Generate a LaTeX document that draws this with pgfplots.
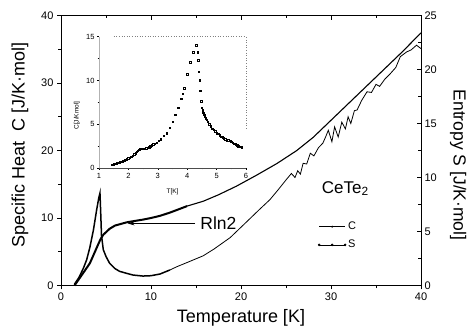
\documentclass[border=0pt]{standalone}
\usepackage{pgfplots}
\pgfplotsset{compat=1.18}
\usepackage{fontspec}
\setmainfont{Liberation Sans}
\usetikzlibrary{arrows.meta}
\begin{document}
\begin{tikzpicture}[x=1pt,y=1pt]
\path[use as bounding box] (0,0) rectangle (470,331);
% main axis: specific heat (left)
\begin{axis}[
  at={(61pt,45.5pt)}, anchor=south west,
  scale only axis, width=360pt, height=270pt,
  xmin=0, xmax=40, ymin=0, ymax=40,
  xtick={0,10,20,30,40}, ytick={0,10,20,30,40},
  minor xtick={5,15,25,35}, minor ytick={5,15,25,35},
  xtick pos=left, ytick pos=left, tick align=outside,
  major tick length=4pt, minor tick length=3pt,
  every tick/.style={black, line width=0.7pt},
  axis line style={line width=0.9pt},
  ticklabel style={font=\fontsize{11}{13}\selectfont},
  /pgf/number format/assume math mode=true,
  xlabel={Temperature [K]},
  ylabel={Specific Heat\ \ C [J/K·mol]},
  label style={font=\fontsize{18}{20}\selectfont},
  xlabel style={at={(axis description cs:0.5,-0.12)}, anchor=center},
  ylabel style={at={(axis description cs:-0.114,0.52)}, anchor=center},
  clip=false,
]
\addplot[black, line width=1.5pt] coordinates {
(1.5,0.2) (2.0,1.2) (2.5,2.6) (2.85,3.8) (3.2,5.6) (3.6,8.2) (3.96,11.2)
(4.2,13.0) (4.33,13.7) (4.42,10.5) (4.5,7.4) (4.7,5.3) (5.0,4.3) (5.4,3.3)
(6.0,2.5) (6.5,2.1) (7.3,1.8) (8.0,1.55) (9.1,1.4) (10.0,1.45) (11.0,1.7) (12.1,2.3)};
\addplot[black, line width=0.8pt] coordinates {
(12.1,2.3) (12.9,2.8) (14.0,3.4) (15.8,4.4) (17.0,5.4) (18.8,7.1) (20.6,9.4)
(22.0,11.2) (23.2,12.7) (24.2,14.3) (25.1,15.8) (25.6,16.6) (26.0,16.0) (26.3,17.0)
(26.6,16.5) (26.9,18.1) (27.3,18.0) (27.7,19.6) (28.1,19.2) (28.6,20.4) (29.1,21.1)
(29.4,22.0) (29.7,23.0) (30.1,21.3) (30.4,23.5) (30.8,22.0) (31.2,24.2) (31.6,23.2)
(31.9,25.0) (32.2,24.0) (32.6,25.9) (32.9,26.0) (33.4,27.4) (34.0,28.7) (34.5,28.6)
(35.0,29.8) (35.4,29.5) (36.0,30.6) (36.6,31.4) (37.2,32.3) (37.7,33.9) (38.4,34.6)
(38.9,34.9) (39.5,35.6) (40.0,35.1)};
\node[anchor=base west, font=\fontsize{17}{19}\selectfont] at (axis cs:28.6,13.7) {CeTe\textsubscript{2}};
\node[anchor=west, font=\fontsize{17.5}{19}\selectfont] at (axis cs:15.1,9.26) {Rln2};
\draw[-{Stealth[length=7pt,width=4pt]}, line width=0.7pt] (axis cs:14.9,9.2) -- (axis cs:7.4,9.2);
\end{axis}
% right axis: entropy
\begin{axis}[
  at={(61pt,45.5pt)}, anchor=south west,
  scale only axis, width=360pt, height=270pt,
  xmin=0, xmax=40, ymin=0, ymax=25,
  xtick={0,10,20,30,40}, minor xtick={5,15,25,35},
  ytick={0,5,10,15,20,25}, minor ytick={2.5,7.5,12.5,17.5,22.5},
  xticklabels={},
  xtick pos=right, ytick pos=right, yticklabel pos=right,
  tick align=inside,
  major tick length=4.5pt, minor tick length=3pt,
  every tick/.style={black, line width=0.7pt},
  axis line style={line width=0.9pt},
  ticklabel style={font=\fontsize{11}{13}\selectfont},
  /pgf/number format/assume math mode=true,
  ylabel={Entropy S [J/K·mol]},
  label style={font=\fontsize{17.5}{20}\selectfont},
  ylabel style={at={(axis description cs:1.103,0.446)}, anchor=center, rotate=180},
  legend style={at={(0.714,0.243)}, anchor=north west, draw=none, fill=none,
    font=\fontsize{11}{13}\selectfont, row sep=5pt, inner sep=0pt},
  legend cell align=left,
  legend image code/.code={\draw[#1] plot coordinates {(0pt,0pt) (13pt,0pt) (26pt,0pt)};},
  clip=false,
]
\addplot[black, line width=2pt, forget plot] coordinates {
(1.5,0) (2.0,0.6) (2.5,1.2) (3.2,2.05) (3.6,2.8) (4.1,3.75) (4.4,4.3) (4.7,4.7)
(5.4,5.25) (6.0,5.55) (7.3,5.85) (8.0,5.95) (9.1,6.1) (10.0,6.25) (11.0,6.45)
(12.1,6.75) (12.9,7.0) (14.0,7.35)};
\addplot[black, line width=1.1pt, forget plot] coordinates {
(14.0,7.35) (15.8,7.8) (17.5,8.4) (19.5,9.2) (21.7,10.2) (24.0,11.3) (26.2,12.5)
(28.0,13.7) (30.0,15.3) (32.0,16.9) (34.0,18.5) (36.0,20.1) (38.0,21.7) (40.0,23.4)};
\addlegendimage{black, line width=0.5pt, mark=*, mark size=0.7pt, mark repeat=2, mark phase=2}
\addlegendentry{C}
\addlegendimage{black, line width=0.7pt, mark=*, mark size=0.9pt}
\addlegendentry{S}
\end{axis}
% inset
\begin{axis}[
  at={(99pt,163pt)}, anchor=south west,
  scale only axis, width=147pt, height=131.3pt,
  xmin=1, xmax=6, ymin=0, ymax=15,
  xtick={1,2,3,4,5,6}, ytick={0,5,10,15},
  minor xtick={1.5,2.5,3.5,4.5,5.5}, minor ytick={2.5,7.5,12.5},
  xtick pos=left, ytick pos=left, tick align=outside,
  major tick length=2pt, minor tick length=1.3pt,
  every tick/.style={black, line width=0.5pt},
  axis line style={draw=none},
  ticklabel style={font=\fontsize{7.5}{8}\selectfont},
  yticklabel style={xshift=1pt},
  /pgf/number format/assume math mode=true,
  xlabel={T[K]}, ylabel={C[J/Kmol]},
  label style={font=\fontsize{6.5}{7}\selectfont},
  xlabel style={at={(axis description cs:0.5,-0.18)}, anchor=center},
  ylabel style={at={(axis description cs:-0.15,0.40)}, anchor=center},
  clip=false,
]
\draw[line width=0.7pt, gray!60!black] (rel axis cs:0,0) -- (rel axis cs:1,0);
\draw[line width=0.3pt, gray!60] (rel axis cs:0,0) -- (rel axis cs:0,1);
\draw[line width=0.6pt, dotted, gray] (rel axis cs:0.1,1) -- (rel axis cs:1,1) -- (rel axis cs:1,0.3);
\addplot[only marks, black, mark=square, mark size=0.75pt, mark options={line width=0.45pt}] coordinates {
(1.45,0.4) (1.5,0.45) (1.55,0.5) (1.6,0.55) (1.65,0.6) (1.7,0.65) (1.75,0.7) (1.8,0.78)
(1.85,0.85) (1.9,0.92) (1.95,1.0) (2.0,1.1) (2.05,1.2) (2.1,1.3) (2.15,1.4) (2.2,1.55)
(2.25,1.7) (2.29,1.85) (2.32,2.0) (2.35,2.1) (2.38,2.15) (2.42,2.2) (2.45,2.2) (2.5,2.2)
(2.55,2.2) (2.6,2.25) (2.65,2.3) (2.7,2.4) (2.75,2.5) (2.8,2.6) (2.85,2.7) (2.9,2.8)
(2.96,2.9) (3.03,3.1) (3.1,3.3) (3.2,3.7) (3.3,4.0) (3.4,4.6) (3.5,5.3) (3.6,6.1)
(3.7,6.9) (3.8,7.9) (3.85,8.5) (3.9,9.1) (4.0,10.7) (4.1,12.1) (4.2,13.2) (4.3,14.0)
(4.36,13.2) (4.38,12.3) (4.4,11.0) (4.42,10.0) (4.45,8.8) (4.47,7.6) (4.5,6.9)
(4.52,6.6) (4.55,6.3) (4.58,6.1) (4.6,5.9) (4.63,5.7) (4.66,5.5) (4.7,5.3) (4.75,5.0)
(4.8,4.75) (4.85,4.5) (4.9,4.35) (4.95,4.2) (5.0,4.0) (5.05,3.9) (5.1,3.75) (5.15,3.6)
(5.2,3.5) (5.25,3.4) (5.3,3.3) (5.35,3.2) (5.4,3.15) (5.46,3.1) (5.5,3.0) (5.55,2.9)
(5.6,2.8) (5.65,2.7) (5.7,2.6) (5.74,2.5) (5.8,2.45) (5.85,2.4)};
\end{axis}
\end{tikzpicture}
\end{document}
